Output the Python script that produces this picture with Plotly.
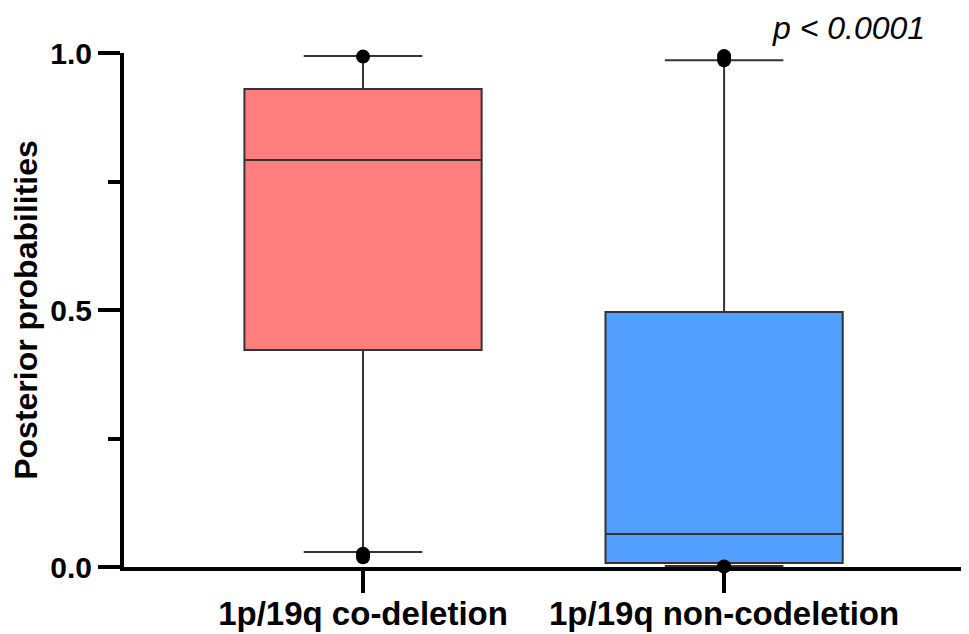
import plotly.graph_objects as go

# box statistics
groups = ["1p/19q co-deletion", "1p/19q non-codeletion"]
q1 = [0.422, 0.008]
median = [0.792, 0.064]
q3 = [0.930, 0.496]
lower_fence = [0.029, 0.002]
upper_fence = [0.994, 0.986]
box_colors = ["#FF7F7F", "#529FFF"]

# single points drawn at the whisker ends
codel_points = [0.993, 0.026, 0.019]
noncodel_points = [0.994, 0.986, 0.001]

y_ticks = [0.0, 0.5, 1.0]
font_family = "Liberation Sans, Arial, sans-serif"

fig = go.Figure()
for i, grp in enumerate(groups):
    fig.add_trace(go.Box(
        x=[grp], q1=[q1[i]], median=[median[i]], q3=[q3[i]],
        lowerfence=[lower_fence[i]], upperfence=[upper_fence[i]],
        fillcolor=box_colors[i], line=dict(color="#333333", width=2),
        width=0.657, whiskerwidth=0.5, boxpoints=False, showlegend=False,
    ))

for grp, pts in zip(groups, [codel_points, noncodel_points]):
    fig.add_trace(go.Scatter(
        x=[grp] * len(pts), y=pts, mode="markers",
        marker=dict(color="black", size=14), cliponaxis=False, showlegend=False,
    ))

fig.add_annotation(
    text="<i>p < 0.0001</i>", xref="paper", yref="paper", x=0.861, y=1.0875,
    xanchor="center", yanchor="top", showarrow=False,
    font=dict(family=font_family, size=32, color="black"),
)

# page body keeps an 8px margin, so the figure is 8px smaller than the window
fig.update_layout(
    width=961, height=626,
    margin=dict(l=116, r=3, t=45, b=67),
    plot_bgcolor="white", paper_bgcolor="white",
    font=dict(family=font_family, color="black"),
)
fig.update_xaxes(
    type="category", range=[-0.662, 1.670], automargin=False,
    showline=True, linecolor="black", linewidth=4,
    ticks="outside", ticklen=22, tickwidth=4, tickcolor="black",
    ticklabelstandoff=-8,
    tickfont=dict(size=33, weight="bold", family=font_family),
    showgrid=False, zeroline=False,
)
fig.update_yaxes(
    range=[0, 1.0], tickvals=y_ticks, tickformat=".1f", automargin=False,
    showline=True, linecolor="black", linewidth=4,
    ticks="outside", ticklen=22, tickwidth=4, tickcolor="black",
    tickfont=dict(size=30, weight="bold", family=font_family),
    minor=dict(tickvals=[0.25, 0.75], ticks="outside", ticklen=12, tickwidth=4, tickcolor="black"),
    title=dict(text="Posterior probabilities", standoff=40,
               font=dict(size=32, weight="bold", family=font_family)),
    showgrid=False, zeroline=False,
)

fig.write_html("out.html")
